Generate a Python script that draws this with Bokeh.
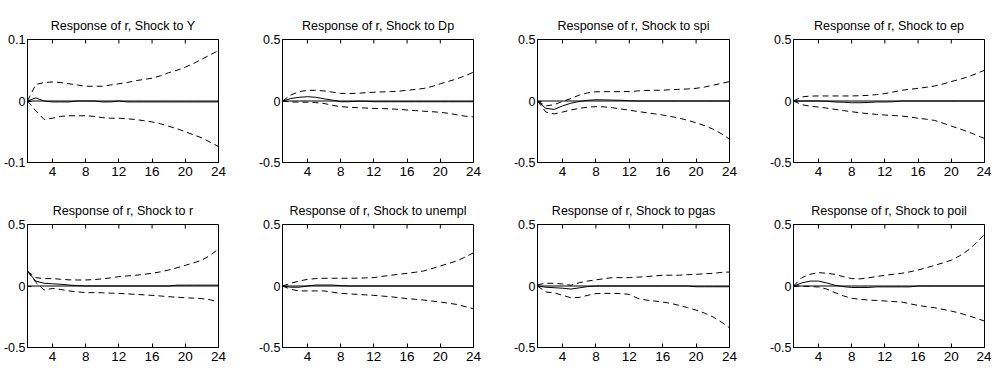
import math
from bokeh.plotting import figure
from bokeh.layouts import gridplot
from bokeh.models import Span, Range1d, FixedTicker
from bokeh.embed import file_html
from bokeh.resources import INLINE

horizon = list(range(1, 25))
x_ticks = [4, 8, 12, 16, 20, 24]

shocks = ["Y", "Dp", "spi", "ep", "r", "unempl", "pgas", "poil"]
y_limits = [0.1, 0.5, 0.5, 0.5, 0.5, 0.5, 0.5, 0.5]
y_tick_labels = [["-0.1", "0", "0.1"]] + [["-0.5", "0", "0.5"]] * 7

# --- Shock to Y ---
upper_Y = [0.0, 0.027, 0.030, 0.031, 0.030, 0.028, 0.026, 0.024, 0.024, 0.024, 0.026, 0.028,
           0.030, 0.033, 0.035, 0.037, 0.041, 0.046, 0.050, 0.055, 0.061, 0.068, 0.075, 0.082]
median_Y = [0.0, 0.005, 0.0, -0.0015, -0.0015, -0.0015, 0.0, 0.0, 0.0, -0.0015, -0.0015, 0.0,
            -0.0015, -0.0015, -0.0015, -0.0015, -0.0015, -0.0015, -0.0015, -0.0015, -0.0015, -0.0015, -0.0015, -0.0015]
lower_Y = [0.0, -0.016, -0.030, -0.028, -0.025, -0.024, -0.024, -0.024, -0.025, -0.027, -0.028, -0.028,
           -0.029, -0.030, -0.032, -0.034, -0.037, -0.041, -0.045, -0.050, -0.055, -0.060, -0.067, -0.074]

# --- Shock to Dp ---
upper_Dp = [0.0, 0.049, 0.076, 0.087, 0.087, 0.082, 0.072, 0.062, 0.061, 0.063, 0.067, 0.071,
            0.074, 0.076, 0.080, 0.087, 0.094, 0.102, 0.118, 0.140, 0.160, 0.180, 0.205, 0.235]
median_Dp = [0.0, 0.020, 0.030, 0.035, 0.030, 0.018, 0.007, -0.006, -0.006, -0.002, -0.002, -0.006,
             -0.006, -0.006, -0.006, -0.006, -0.006, -0.006, -0.006, -0.006, -0.006, -0.006, -0.006, -0.006]
lower_Dp = [0.0, -0.008, -0.009, -0.010, -0.013, -0.020, -0.035, -0.046, -0.051, -0.054, -0.057, -0.060,
            -0.062, -0.064, -0.068, -0.073, -0.078, -0.083, -0.087, -0.092, -0.100, -0.112, -0.123, -0.130]

# --- Shock to spi ---
upper_spi = [0.0, -0.040, -0.030, -0.003, 0.020, 0.048, 0.066, 0.075, 0.076, 0.076, 0.076, 0.077,
             0.082, 0.086, 0.087, 0.088, 0.092, 0.095, 0.098, 0.103, 0.113, 0.128, 0.143, 0.158]
median_spi = [0.0, -0.060, -0.068, -0.040, -0.018, -0.004, 0.006, 0.010, 0.009, 0.007, 0.006, 0.002,
              0.0, 0.0, 0.0, 0.0, 0.0, 0.0, 0.0, 0.0, 0.0, 0.0, 0.0, 0.0]
lower_spi = [0.0, -0.090, -0.105, -0.090, -0.073, -0.060, -0.050, -0.046, -0.048, -0.055, -0.065, -0.075,
             -0.085, -0.095, -0.104, -0.114, -0.126, -0.140, -0.157, -0.177, -0.200, -0.228, -0.265, -0.310]

# --- Shock to ep ---
upper_ep = [0.0, 0.033, 0.040, 0.041, 0.041, 0.041, 0.041, 0.041, 0.043, 0.046, 0.052, 0.060,
            0.073, 0.087, 0.095, 0.103, 0.112, 0.122, 0.138, 0.158, 0.176, 0.196, 0.222, 0.250]
median_ep = [0.0, 0.0, 0.0, 0.0, -0.002, -0.008, -0.010, -0.014, -0.014, -0.012, -0.008, -0.008,
             -0.006, 0.0, 0.0, 0.0, 0.0, 0.0, 0.0, 0.0, 0.0, 0.0, 0.0, 0.0]
lower_ep = [0.0, -0.030, -0.042, -0.049, -0.058, -0.068, -0.078, -0.087, -0.096, -0.103, -0.109, -0.114,
            -0.118, -0.122, -0.130, -0.140, -0.148, -0.158, -0.180, -0.204, -0.226, -0.250, -0.277, -0.305]

# --- Shock to r ---
upper_r = [0.120, 0.068, 0.060, 0.060, 0.055, 0.050, 0.049, 0.049, 0.052, 0.058, 0.066, 0.076,
           0.082, 0.087, 0.095, 0.103, 0.115, 0.130, 0.148, 0.168, 0.188, 0.210, 0.250, 0.300]
median_r = [0.120, 0.040, 0.022, 0.018, 0.014, 0.008, 0.003, 0.0, 0.0, 0.0, 0.0, 0.0,
            0.0, 0.0, 0.0, 0.0, 0.0, 0.0, 0.007, 0.007, 0.007, 0.007, 0.007, 0.007]
lower_r = [0.120, 0.030, -0.033, -0.020, -0.028, -0.040, -0.048, -0.054, -0.054, -0.055, -0.058, -0.060,
           -0.064, -0.068, -0.072, -0.076, -0.081, -0.087, -0.091, -0.095, -0.099, -0.103, -0.112, -0.130]

# --- Shock to unempl ---
upper_unempl = [0.0, 0.022, 0.040, 0.054, 0.060, 0.063, 0.063, 0.063, 0.063, 0.064, 0.066, 0.068,
                0.078, 0.087, 0.095, 0.103, 0.112, 0.122, 0.142, 0.163, 0.183, 0.204, 0.236, 0.270]
median_unempl = [0.0, -0.010, -0.010, 0.0, 0.008, 0.008, 0.008, 0.003, 0.0, 0.0, 0.0, 0.0,
                 0.0, 0.0, 0.0, 0.0, 0.0, 0.0, 0.0, 0.0, 0.0, 0.0, 0.0, 0.0]
lower_unempl = [0.0, -0.027, -0.040, -0.040, -0.040, -0.040, -0.050, -0.060, -0.064, -0.068, -0.072, -0.076,
                -0.082, -0.087, -0.095, -0.103, -0.108, -0.114, -0.122, -0.130, -0.140, -0.150, -0.167, -0.185]

# --- Shock to pgas ---
upper_pgas = [0.010, 0.022, 0.022, 0.016, 0.006, 0.027, 0.040, 0.050, 0.060, 0.068, 0.068, 0.068,
              0.072, 0.076, 0.082, 0.087, 0.088, 0.088, 0.092, 0.095, 0.099, 0.103, 0.110, 0.114]
median_pgas = [0.0, -0.010, -0.014, -0.018, -0.025, -0.015, -0.005, 0.0, 0.0, 0.0, 0.0, 0.0,
               0.0, 0.0, 0.0, 0.0, 0.0, 0.0, 0.0, -0.006, -0.006, -0.006, -0.006, -0.006]
lower_pgas = [0.0, -0.049, -0.055, -0.076, -0.095, -0.093, -0.076, -0.062, -0.060, -0.060, -0.062, -0.068,
              -0.100, -0.114, -0.122, -0.130, -0.142, -0.158, -0.176, -0.196, -0.220, -0.250, -0.292, -0.340]

# --- Shock to poil ---
upper_poil = [0.0, 0.068, 0.095, 0.109, 0.103, 0.095, 0.076, 0.060, 0.058, 0.066, 0.077, 0.087,
              0.095, 0.103, 0.115, 0.130, 0.148, 0.168, 0.188, 0.210, 0.245, 0.290, 0.350, 0.420]
median_poil = [0.0, 0.025, 0.040, 0.040, 0.025, 0.006, -0.005, -0.012, -0.012, -0.012, -0.007, -0.007,
               -0.007, -0.007, -0.007, 0.0, 0.0, 0.0, 0.0, 0.0, 0.0, 0.0, 0.0, 0.0]
lower_poil = [0.0, -0.002, -0.004, -0.008, -0.025, -0.054, -0.080, -0.100, -0.108, -0.114, -0.118, -0.122,
              -0.126, -0.130, -0.144, -0.158, -0.168, -0.177, -0.190, -0.204, -0.220, -0.240, -0.262, -0.285]

uppers = [upper_Y, upper_Dp, upper_spi, upper_ep, upper_r, upper_unempl, upper_pgas, upper_poil]
medians = [median_Y, median_Dp, median_spi, median_ep, median_r, median_unempl, median_pgas, median_poil]
lowers = [lower_Y, lower_Dp, lower_spi, lower_ep, lower_r, lower_unempl, lower_pgas, lower_poil]

FONT = "Liberation Sans"
col_widths = [255, 255, 256, 225]
col_left = [23, 23, 24, 24]
col_right = [37, 37, 37, 7]
row_heights = [185, 184]
row_top = [39, 39]
row_bottom = [23, 22]

figs = []
for i, shock in enumerate(shocks):
    r, c = divmod(i, 4)
    lim = y_limits[i]
    p = figure(width=col_widths[c], height=row_heights[r],
               x_range=Range1d(1, 24), y_range=Range1d(-lim, lim),
               output_backend="svg", toolbar_location=None,
               min_border_left=col_left[c], min_border_right=col_right[c],
               min_border_top=row_top[r], min_border_bottom=row_bottom[r],
               title="Response of r, Shock to " + shock)
    p.title.align = "center"
    p.title.text_font = FONT
    p.title.text_font_size = "12.5px"
    p.title.text_font_style = "normal"
    p.title.text_color = "black"
    p.title.standoff = 13
    p.xgrid.visible = False
    p.ygrid.visible = False
    p.outline_line_color = "black"
    p.outline_line_alpha = 1
    p.background_fill_color = "white"
    p.border_fill_color = "white"

    ticks_y = [-lim, 0, lim]
    p.yaxis.ticker = FixedTicker(ticks=ticks_y)
    p.yaxis.major_label_overrides = {ticks_y[k]: y_tick_labels[i][k] for k in range(3)}
    p.xaxis.ticker = FixedTicker(ticks=x_ticks)
    for ax in (p.xaxis[0], p.yaxis[0]):
        ax.major_tick_in = 4
        ax.major_tick_out = 0
        ax.minor_tick_line_color = None
        ax.axis_line_color = "black"
        ax.major_tick_line_color = "black"
        ax.major_label_text_font = FONT
        ax.major_label_text_color = "black"
    p.xaxis.major_label_text_font_size = "13.5px"
    p.xaxis.major_label_standoff = 4
    p.yaxis.major_label_text_font_size = "12.5px"
    p.yaxis.major_label_standoff = 2

    # inward tick marks along the top edge of the box (clipped to the frame)
    p.scatter(x_ticks, [lim] * len(x_ticks), marker="dash", angle=math.pi / 2,
              size=8, line_color="black", line_width=1)

    p.add_layout(Span(location=0, dimension="width", line_color="black", line_width=1))
    p.line(horizon, uppers[i], line_color="black", line_width=1, line_dash="6 4")
    p.line(horizon, lowers[i], line_color="black", line_width=1, line_dash="6 4")
    p.line(horizon, medians[i], line_color="black", line_width=1)
    figs.append(p)

grid = gridplot([figs[:4], figs[4:]], toolbar_location=None)
open("out.html", "w").write(file_html(grid, INLINE))
